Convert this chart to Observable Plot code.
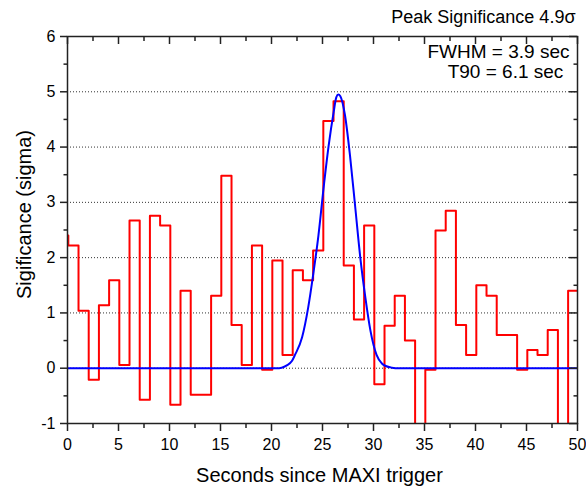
<!DOCTYPE html>
<html><head><meta charset="utf-8">
<script src="https://cdn.jsdelivr.net/npm/d3@7"></script>
<script src="https://cdn.jsdelivr.net/npm/@observablehq/plot@0.6"></script>
<style>body{margin:0;background:#fff} #chart{width:586px;height:487px}</style>
</head><body><div id="chart"></div>
<script>
// Light-curve significance bins (left edge in seconds, value in sigma)
const binEdges = [-0.92, 0.08, 1.08, 2.08, 3.08, 4.08, 5.08, 6.08, 7.08, 8.08, 9.08,
  10.08, 11.08, 12.08, 13.08, 14.08, 15.08, 16.08, 17.08, 18.08, 19.08,
  20.08, 21.08, 22.08, 23.08, 24.08, 25.08, 26.08, 27.08, 28.08, 29.08,
  30.08, 31.08, 32.08, 33.08, 34.08, 35.08, 36.08, 37.08, 38.08, 39.08,
  40.08, 41.08, 42.08, 43.08, 44.08, 45.08, 46.08, 47.08, 48.08, 49.08, 50.08];
const binSigma = [2.40, 2.22, 1.04, -0.21, 1.14, 1.59, 0.06, 2.67, -0.57, 2.76, 2.58,
  -0.66, 1.40, -0.48, -0.48, 1.31, 3.48, 0.78, 0.06, 2.22, -0.03,
  1.95, 0.24, 1.77, 1.59, 2.13, 4.47, 4.83, 1.86, 0.88, 2.58,
  -0.29, 0.77, 1.31, 0.50, -1.6, -0.03, 2.49, 2.85, 0.78, 0.24,
  1.50, 1.31, 0.60, 0.60, -0.03, 0.33, 0.24, 0.69, -1.5, 1.40];

// Gaussian fit curve
const fitTime = [0, 20.5, 21.0, 21.5, 22.0, 22.3, 23.0, 23.6, 24.1, 24.6, 25.1, 25.6, 26.1, 26.35, 26.55, 26.75, 27.2, 27.7, 28.2, 28.7, 29.2, 29.7, 30.3, 30.8, 31.2, 31.8, 32.5, 50];
const fitSigma = [0, 0, 0.01, 0.05, 0.13, 0.24, 0.56, 1.10, 1.71, 2.40, 3.25, 4.02, 4.64, 4.90, 4.95, 4.92, 4.58, 3.84, 2.93, 2.01, 1.28, 0.68, 0.24, 0.09, 0.04, 0.01, 0, 0];

const yMajor = [-1, 0, 1, 2, 3, 4, 5, 6];
const yMinor = [-0.5, 0.5, 1.5, 2.5, 3.5, 4.5, 5.5];
const xMajor = [0, 5, 10, 15, 20, 25, 30, 35, 40, 45, 50];
const xMinor = [2.5, 7.5, 12.5, 17.5, 22.5, 27.5, 32.5, 37.5, 42.5, 47.5];
const gridLevels = [0, 1, 2, 3, 4, 5];

const titleText = "Peak Significance 4.9σ";
const fwhmText = "FWHM = 3.9 sec";
const t90Text = "T90 = 6.1 sec";
const xTitle = "Seconds since MAXI trigger";
const yTitle = "Sigificance (sigma)";

const stepRows = binEdges.map((t, i) => ({t, v: binSigma[Math.min(i, binSigma.length - 1)]}));
const fitRows = fitTime.map((t, i) => ({t, v: fitSigma[i]}));

const W = 586, H = 487, mL = 67, mR = 9, mT = 36, mB = 64;
const plotW = W - mL - mR, plotH = H - mT - mB;
const font = "'Liberation Sans', Arial, Helvetica, sans-serif";
const axisColor = "#222";

const chart = Plot.plot({
  width: W, height: H,
  marginLeft: mL, marginRight: mR, marginTop: mT, marginBottom: mB,
  style: {fontFamily: font, fontSize: "16px", background: "#fff", color: "#000", overflow: "visible"},
  x: {domain: [0, 50]},
  y: {domain: [-1, 6]},
  marks: [
    Plot.ruleY(gridLevels, {stroke: "#333", strokeDasharray: "1,2", strokeWidth: 1}),
    Plot.line(stepRows, {x: "t", y: "v", curve: "step-after", stroke: "#ff0000", strokeWidth: 2, clip: true}),
    Plot.line(fitRows, {x: "t", y: "v", curve: "monotone-x", stroke: "#0000ff", strokeWidth: 2, clip: true}),
    Plot.frame({stroke: axisColor, strokeWidth: 1.5}),
    Plot.axisY(yMajor, {tickSize: 7, tickPadding: 5, tickFormat: d => String(d), label: null, fontSize: 16, stroke: axisColor, strokeWidth: 1.5}),
    Plot.axisY(yMinor, {tickSize: 3.5, tickFormat: () => "", label: null, stroke: axisColor, strokeWidth: 1.5}),
    Plot.axisX(xMajor, {tickSize: 8, tickPadding: 7, tickFormat: d => String(d), label: null, fontSize: 16, stroke: axisColor, strokeWidth: 1.5}),
    Plot.axisX(xMinor, {tickSize: 5, tickFormat: () => "", label: null, stroke: axisColor, strokeWidth: 1.5}),
    Plot.tickX(xMajor, {x: d => d, insetBottom: plotH - 8, stroke: axisColor, strokeWidth: 1.5}),
    Plot.tickX(xMinor, {x: d => d, insetBottom: plotH - 5, stroke: axisColor, strokeWidth: 1.5}),
    Plot.tickY(yMajor, {y: d => d, insetLeft: plotW - 8, stroke: axisColor, strokeWidth: 1.5}),
    Plot.tickY(yMinor, {y: d => d, insetLeft: plotW - 3.5, stroke: axisColor, strokeWidth: 1.5}),
    Plot.text([titleText], {frameAnchor: "top-right", textAnchor: "end", lineAnchor: "bottom", dx: -2, dy: -14, fontSize: 18, fill: "#000"}),
    Plot.text([fwhmText], {frameAnchor: "top-right", textAnchor: "middle", lineAnchor: "bottom", dx: -79, dy: 21, fontSize: 19, fill: "#000"}),
    Plot.text([t90Text], {frameAnchor: "top-right", textAnchor: "middle", lineAnchor: "bottom", dx: -72, dy: 41, fontSize: 19, fill: "#000"}),
    Plot.text([xTitle], {frameAnchor: "bottom", textAnchor: "middle", lineAnchor: "bottom", dx: -3, dy: 58, fontSize: 20, fill: "#000"}),
    Plot.text([yTitle], {frameAnchor: "top-left", textAnchor: "middle", lineAnchor: "middle", rotate: -90, dx: -43, dy: 178, fontSize: 20, fill: "#000"})
  ]
});
document.getElementById("chart").appendChild(chart);
</script></body></html>
